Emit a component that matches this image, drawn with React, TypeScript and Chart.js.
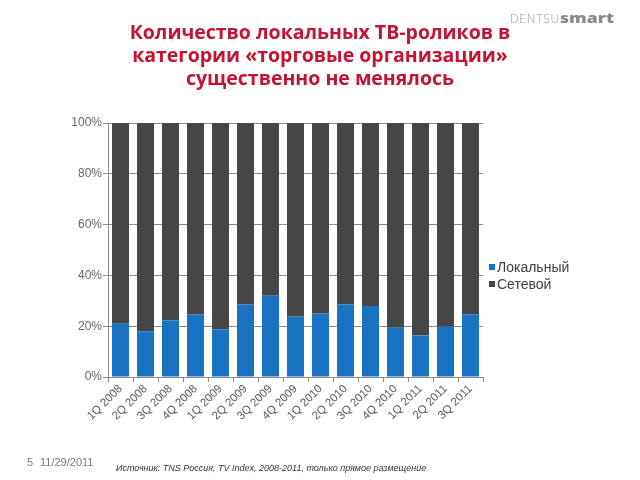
import React, { useEffect, useRef } from "react";
import { Chart, registerables } from "chart.js";

Chart.register(...registerables);

const categories = [
  "1Q 2008", "2Q 2008", "3Q 2008", "4Q 2008",
  "1Q 2009", "2Q 2009", "3Q 2009", "4Q 2009",
  "1Q 2010", "2Q 2010", "3Q 2010", "4Q 2010",
  "1Q 2011", "2Q 2011", "3Q 2011",
];
const localShare = [21.0, 18.0, 22.3, 24.7, 18.8, 28.5, 32.0, 23.8, 25.1, 28.6, 28.0, 19.4, 16.4, 19.8, 24.7];
const networkShare = [79.0, 82.0, 77.7, 75.3, 81.2, 71.5, 68.0, 76.2, 74.9, 71.4, 72.0, 80.6, 83.6, 80.2, 75.3];
const seriesNames = ["Локальный", "Сетевой"];
const seriesColors = ["#1a73c2", "#464646"];
const titleLines = [
  "Количество локальных ТВ-роликов в",
  "категории «торговые организации»",
  "существенно не менялось",
];

export default function App() {
  const ref = useRef<HTMLCanvasElement>(null);

  useEffect(() => {
    if (!ref.current) return;
    const chart = new Chart(ref.current, {
      type: "bar",
      data: {
        labels: categories,
        datasets: [
          { label: seriesNames[0], data: localShare, backgroundColor: seriesColors[0], barPercentage: 0.68, categoryPercentage: 1 },
          { label: seriesNames[1], data: networkShare, backgroundColor: seriesColors[1], barPercentage: 0.68, categoryPercentage: 1 },
        ],
      },
      options: {
        animation: false,
        responsive: false,
        maintainAspectRatio: false,
        layout: { padding: { left: 68, top: 123, right: 157, bottom: 43 } },
        plugins: { legend: { display: false }, tooltip: { enabled: false }, title: { display: false } },
        scales: {
          x: {
            stacked: true,
            afterFit: (s: any) => { s.height = 60; },
            grid: { drawOnChartArea: false, drawTicks: true, tickLength: 5, color: "#8c8c8c" },
            border: { color: "#8c8c8c" },
            ticks: {
              minRotation: 45, maxRotation: 45, autoSkip: false,
              color: "#5a5a5a", padding: 0,
              font: { family: "'Liberation Sans', Arial, sans-serif", size: 11.5 },
            },
          },
          y: {
            stacked: true, min: 0, max: 100,
            afterFit: (s: any) => { s.width = 40; },
            grid: { color: "#8c8c8c", tickLength: 5 },
            border: { color: "#8c8c8c" },
            ticks: {
              stepSize: 20, color: "#666666", padding: 1,
              font: { family: "'Liberation Sans', Arial, sans-serif", size: 12 },
              callback: (v: any) => v + "%",
            },
          },
        },
      },
    });
    return () => chart.destroy();
  }, []);

  const legendItem = (i: number) => (
    <div key={i} style={{ display: "flex", alignItems: "center", height: 17 }}>
      <span style={{ width: 6, height: 6, background: seriesColors[i], marginRight: 2, display: "inline-block" }} />
      <span>{seriesNames[i]}</span>
    </div>
  );

  return (
    <div style={{ position: "absolute", left: 0, top: 0, width: 640, height: 480, background: "#fff", overflow: "hidden" }}>
      <canvas ref={ref} width={640} height={480} style={{ position: "absolute", left: 0, top: 0 }} />
      <div style={{ position: "absolute", left: 0, width: 640, top: 20, textAlign: "center", color: "#c41432", fontFamily: "'Open Sans', sans-serif", fontWeight: 700, fontSize: 19.5, lineHeight: "23px" }}>
        {titleLines.map((t, i) => <div key={i}>{t}</div>)}
      </div>
      <div style={{ position: "absolute", left: 510, top: 10, fontFamily: "'Open Sans', sans-serif", fontSize: 12, lineHeight: "16px", color: "#9a9a9a", whiteSpace: "nowrap" }}>
        <span style={{ fontWeight: 300, letterSpacing: 0.8 }}>DENTSU</span>
        <span style={{ fontWeight: 800, color: "#8a8a8a", fontSize: 14, display: "inline-block", transform: "scaleX(1.26)", transformOrigin: "left" }}>smart</span>
      </div>
      <div style={{ position: "absolute", left: 489, top: 258, fontFamily: "'Liberation Sans', Arial, sans-serif", fontSize: 14, color: "#404040" }}>
        {legendItem(0)}
        {legendItem(1)}
      </div>
      <div style={{ position: "absolute", left: 27, top: 456, fontFamily: "'Liberation Sans', Arial, sans-serif", fontSize: 11, color: "#7a7a7a" }}>5</div>
      <div style={{ position: "absolute", left: 40, top: 456, fontFamily: "'Liberation Sans', Arial, sans-serif", fontSize: 11, color: "#7a7a7a" }}>11/29/2011</div>
      <div style={{ position: "absolute", left: 116, top: 463, fontFamily: "'Liberation Sans', Arial, sans-serif", fontSize: 9, fontStyle: "italic", color: "#333" }}>
        Источник: TNS Россия, TV Index, 2008-2011, только прямое размещение
      </div>
    </div>
  );
}
